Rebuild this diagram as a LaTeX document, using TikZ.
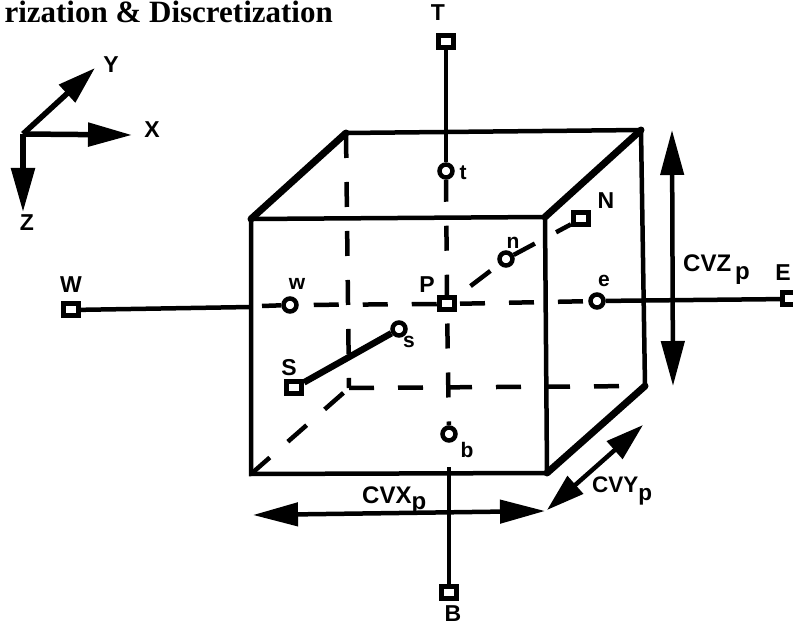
\documentclass[tikz,border=0pt]{standalone}
\usepackage{fontspec}
\setmainfont{Liberation Sans}
\newfontfamily\titlefont{Liberation Serif}
\usetikzlibrary{arrows.meta}
\tikzset{
	bignode/.style={rectangle,draw,line width=5pt,fill=white,inner sep=0pt,minimum width=15pt,minimum height=12pt},
	facenode/.style={circle,draw,line width=4.5pt,fill=white,inner sep=0pt,minimum size=13pt},
	lab/.style={inner sep=0pt,font=\fontsize{23}{23}\selectfont\bfseries},
	smalllab/.style={inner sep=0pt,font=\fontsize{21}{21}\selectfont\bfseries},
	cvlab/.style={inner sep=0pt,anchor=base west,font=\fontsize{24}{24}\selectfont\bfseries},
	edge/.style={line width=4.5pt,line cap=round},
	thickedge/.style={line width=7pt,line cap=round},
	hidden/.style={line width=4.5pt,dash pattern=on 25pt off 24pt},
	axisline/.style={line width=4.5pt},
	bigarrow/.style={line width=4.5pt,{Triangle[length=45pt,width=23pt]}-{Triangle[length=45pt,width=23pt]}},
	axisarrow/.style={line width=5.5pt,-{Triangle[length=44pt,width=23pt]}}
}
\begin{document}
\begin{tikzpicture}[x=1pt,y=-1pt]
	\useasboundingbox (0,0) rectangle (793,628);
	\node[anchor=base east,inner sep=0pt,font=\fontsize{31}{31}\selectfont\titlefont\bfseries] (title) at (333,23) {rization \& Discretization};
	% axes
	\coordinate (origin) at (23,134);
	\coordinate (ytip) at (95,68);
	\coordinate (xtip) at (132,135);
	\coordinate (ztip) at (23,212);
	\draw[axisarrow,-{Triangle[length=38pt,width=23pt]}] (origin) -- (ytip);
	\draw[axisarrow] (origin) -- (xtip);
	\draw[axisarrow] (origin) -- (ztip);
	\node[lab] (ylab) at (111,65) {Y};
	\node[lab] (xlab) at (152,130) {X};
	\node[lab] (zlab) at (27,223) {Z};
	% cube
	\coordinate (ftl) at (251,219);
	\coordinate (ftr) at (545,217);
	\coordinate (fbr) at (547,473);
	\coordinate (fbl) at (251,474);
	\coordinate (btl) at (346,133);
	\coordinate (btr) at (641,130);
	\coordinate (bbr) at (645,386);
	\coordinate (bbl) at (349,388);
	\draw[hidden] (btl) -- (bbl);
	\draw[hidden] (bbl) -- (bbr);
	\draw[hidden] (fbl) -- (bbl);
	\draw[edge] (ftl) -- (ftr) -- (fbr) -- (fbl) -- cycle;
	\draw[edge] (btl) -- (btr) -- (bbr);
	\draw[thickedge] (ftl) -- (btl);
	\draw[thickedge] (ftr) -- (btr);
	\draw[thickedge] (fbr) -- (bbr);
	% grid points
	\node[bignode] (P) at (447,304) {};
	\node[bignode] (T) at (446,42) {};
	\node[bignode] (B) at (449,592) {};
	\node[bignode] (W) at (71,310) {};
	\node[bignode] (E) at (790,299) {};
	\node[bignode] (S) at (294,388) {};
	\node[bignode] (N) at (581,219) {};
	\node[facenode] (t) at (446,171) {};
	\node[facenode] (b) at (449,434) {};
	\node[facenode] (w) at (290,305) {};
	\node[facenode] (e) at (597,301) {};
	\node[facenode] (s) at (399,329) {};
	\node[facenode] (n) at (506,259) {};
	\coordinate (wleft) at (251,307);
	\coordinate (wright) at (262,306);
	\coordinate (bfoot) at (449,467);
	\draw[axisline] (T) -- (t);
	\draw[axisline] (W) -- (wleft);
	\draw[axisline] (wright) -- (w);
	\draw[axisline] (e) -- (E);
	\draw[axisline] (bfoot) -- (B);
	\draw[line width=6.5pt] (S) -- (s);
	\draw[hidden,dash phase=3pt] (t) -- (P);
	\draw[hidden,dash phase=38pt] (P) -- (b);
	\draw[hidden,dash phase=34pt] (w) -- (P);
	\draw[hidden,dash phase=46pt] (P) -- (e);
	\draw[hidden,dash phase=32pt] (P) -- (n);
	\draw[hidden,dash phase=1pt] (n) -- (N);
	% size arrows
	\coordinate (zup) at (672,130);
	\coordinate (zdown) at (673,386);
	\coordinate (xleft) at (253,515);
	\coordinate (xright) at (545,511);
	\coordinate (yup) at (643,425);
	\coordinate (ydown) at (547,510);
	\draw[bigarrow] (zup) -- (zdown);
	\draw[bigarrow] (xleft) -- (xright);
	\draw[bigarrow,{Triangle[length=38pt,width=23pt]}-{Triangle[length=38pt,width=23pt]}] (ydown) -- (yup);
	% labels
	\node[lab] (Tlab) at (438,13) {T};
	\node[smalllab] (tlab) at (463,173) {t};
	\node[lab] (Nlab) at (606,201) {N};
	\node[smalllab] (nlab) at (513,243) {n};
	\node[lab] (Plab) at (427,285) {P};
	\node[smalllab] (elab) at (604,281) {e};
	\node[smalllab] (wlab) at (297,284) {w};
	\node[smalllab] (slab) at (409,342) {s};
	\node[lab] (Slab) at (289,368) {S};
	\node[smalllab] (blab) at (467,450) {b};
	\node[lab] (Blab) at (453,614) {B};
	\node[lab] (Wlab) at (71,285) {W};
	\node[lab] (Elab) at (783,273) {E};
	\node[cvlab] (cvz) at (683,272) {CVZ\,\raisebox{-8pt}{p}};
	\node[cvlab,font=\fontsize{22.5}{22.5}\selectfont\bfseries] (cvy) at (592,492) {CVY\raisebox{-8pt}{p}};
	\node[cvlab] (cvx) at (362,503) {CVX\raisebox{-6pt}{p}};
\end{tikzpicture}
\end{document}
